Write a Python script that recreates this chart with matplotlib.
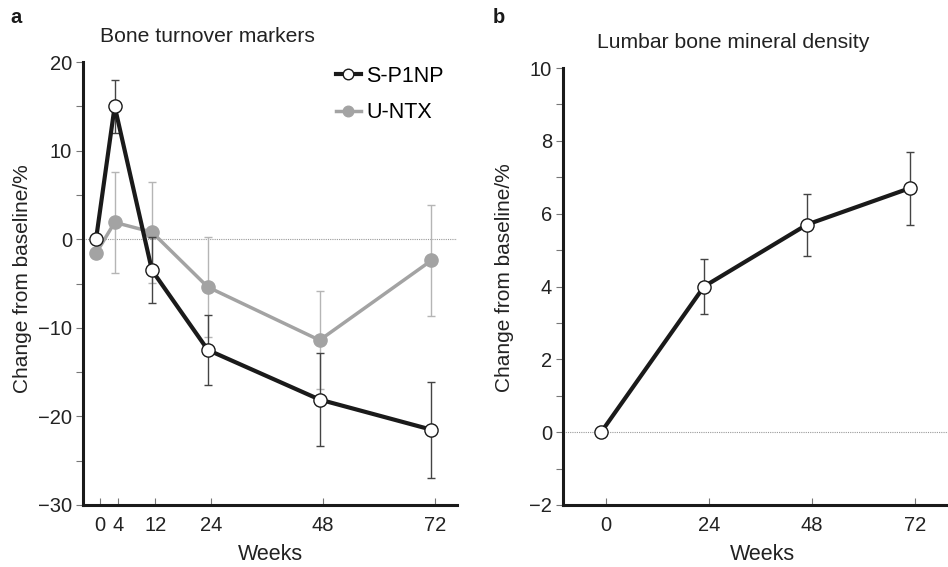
import matplotlib
matplotlib.use("Agg")
import matplotlib.pyplot as plt
from matplotlib.ticker import MultipleLocator

plt.rcParams['font.family'] = ['Liberation Sans', 'DejaVu Sans']

# panel a: bone turnover markers
weeks_a = [0, 4, 12, 24, 48, 72]
p1np = [0, 15, -3.5, -12.5, -18.1, -21.5]
p1np_err = [0, 3.0, 3.7, 4.0, 5.2, 5.4]
ntx = [-1.6, 1.9, 0.8, -5.4, -11.4, -2.4]
ntx_err = [0, 5.7, 5.7, 5.6, 5.5, 6.3]

# panel b: lumbar BMD
weeks_b = [0, 24, 48, 72]
bmd = [0, 4.0, 5.7, 6.7]
bmd_err = [0, 0.75, 0.85, 1.0]

BLACK = '#1a1a1a'
GREY = '#a3a3a3'
TXT = '#222222'

W, H = 948, 567
fig = plt.figure(figsize=(W / 100, H / 100), dpi=100)
ax1 = fig.add_axes([83 / W, 1 - 505 / H, 374 / W, 443 / H])
ax2 = fig.add_axes([563 / W, 1 - 505 / H, 385 / W, 437 / H])


def style(ax):
    for s in ['top', 'right']:
        ax.spines[s].set_visible(False)
    for s in ['left', 'bottom']:
        ax.spines[s].set_linewidth(2.2)
        ax.spines[s].set_color(BLACK)
    ax.tick_params(axis='y', which='major', direction='out', length=5,
                   width=0.8, color='#777777', labelsize=14.5, pad=3,
                   labelcolor=TXT)
    ax.tick_params(axis='y', which='minor', direction='out', length=5,
                   width=0.8, color='#777777')
    ax.tick_params(axis='x', direction='in', length=5, width=0.8,
                   color='#777777', labelsize=14.5, pad=8, labelcolor=TXT)
    ax.axhline(0, color='#999999', lw=0.8, ls=(0, (1, 1)), zorder=1)


# --- a ---
style(ax1)
ax1.errorbar(weeks_a[1:], ntx[1:], yerr=ntx_err[1:], fmt='none',
             ecolor='#b5b5b5', elinewidth=1.0, capsize=3, capthick=1.0, zorder=2)
ax1.plot(weeks_a, ntx, color=GREY, lw=2.5, marker='o', ms=9.5,
         mfc=GREY, mec=GREY, zorder=3, label='U-NTX')
ax1.errorbar(weeks_a[1:], p1np[1:], yerr=p1np_err[1:], fmt='none',
             ecolor='#444444', elinewidth=1.0, capsize=3, capthick=1.0, zorder=4)
ax1.plot(weeks_a, p1np, color=BLACK, lw=3.0, marker='o', ms=9.5,
         mfc='white', mec=BLACK, mew=1.0, zorder=5, label='S-P1NP')
ax1.set_xlim(-2.8, 77.5)
ax1.set_ylim(-30, 20)
# tick marks in the original sit slightly right of the data points
ax1.set_xticks([w + 0.75 for w in weeks_a], [str(w) for w in weeks_a])
ax1.set_yticks([-30, -20, -10, 0, 10, 20],
               ['\u221230', '\u221220', '\u221210', '0', '10', '20'])
ax1.yaxis.set_minor_locator(MultipleLocator(5))
ax1.set_xlabel('Weeks', fontsize=15.5, color=TXT, va='center')
ax1.xaxis.set_label_coords(0.5, -50 / 443)
ax1.set_ylabel('Change from baseline/%', fontsize=15, color=TXT, va='center')
ax1.yaxis.set_label_coords(-60 / 374, 0.512)
h, l = ax1.get_legend_handles_labels()
ax1.legend(h[::-1], l[::-1], loc='upper left',
           bbox_to_anchor=(336 / W, 1 - 66 / H), bbox_transform=fig.transFigure,
           frameon=False, fontsize=15.5, handlelength=1.15, handletextpad=0.25,
           labelspacing=0.72, borderpad=0, borderaxespad=0, markerscale=0.8)

# --- b ---
style(ax2)
ax2.errorbar(weeks_b[1:], bmd[1:], yerr=bmd_err[1:], fmt='none',
             ecolor='#444444', elinewidth=1.0, capsize=3, capthick=1.0, zorder=4)
ax2.plot(weeks_b, bmd, color=BLACK, lw=3.0, marker='o', ms=9.5,
         mfc='white', mec=BLACK, mew=1.0, zorder=5, clip_on=False)
ax2.set_xlim(-8.9, 80.9)
ax2.set_ylim(-2, 10)
ax2.set_xticks([w + 1.15 for w in weeks_b], [str(w) for w in weeks_b])
ax2.set_yticks([-2, 0, 2, 4, 6, 8, 10],
               ['\u22122', '0', '2', '4', '6', '8', '10'])
ax2.yaxis.set_minor_locator(MultipleLocator(1))
ax2.set_xlabel('Weeks', fontsize=15.5, color=TXT, va='center')
ax2.xaxis.set_label_coords(0.517, -50 / 437)
ax2.set_ylabel('Change from baseline/%', fontsize=15, color=TXT, va='center')
ax2.yaxis.set_label_coords(-59 / 385, 0.52)

fig.text(10 / W, 1 - 8 / H, 'a', fontsize=14.5, fontweight='bold', va='top', color=BLACK)
fig.text(493 / W, 1 - 8 / H, 'b', fontsize=14.5, fontweight='bold', va='top', color=BLACK)
fig.text(207 / W, 1 - 36 / H, 'Bone turnover markers', fontsize=15.2,
         ha='center', va='center', color=TXT)
fig.text(733 / W, 1 - 43 / H, 'Lumbar bone mineral density', fontsize=15.2,
         ha='center', va='center', color=TXT)

fig.savefig('out.png', dpi=100)
